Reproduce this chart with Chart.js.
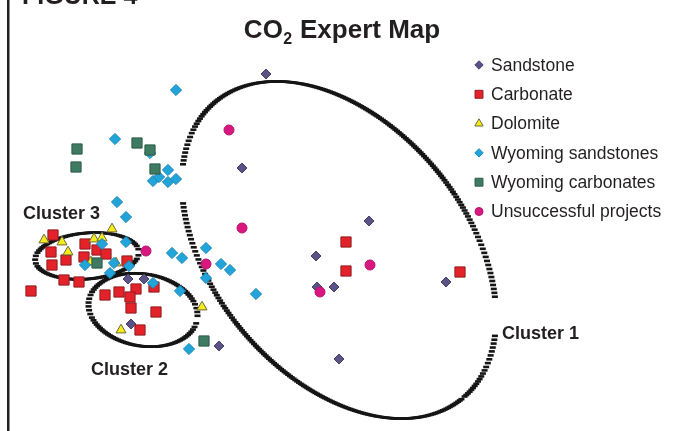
<!DOCTYPE html>
<html>
<head>
<meta charset="utf-8">
<title>CO2 Expert Map</title>
<script src="https://cdn.jsdelivr.net/npm/chart.js@4/dist/chart.umd.min.js"></script>
<style>
  html, body { margin: 0; padding: 0; background: #ffffff; }
  #wrap { position: relative; width: 673px; height: 431px; }
  canvas { display: block; }
</style>
</head>
<body>
<div id="wrap"><canvas id="map" width="673" height="431"></canvas></div>
<script>
// Expert-map coordinates: x grows to the right, y grows downward (map units).
const seriesNames = ['Sandstone', 'Carbonate', 'Dolomite', 'Wyoming sandstones', 'Wyoming carbonates', 'Unsuccessful projects'];

const sandstone = [[266,74],[242,168],[369,221],[316,256],[317,287],[334,287],[446,282],[339,359],[219,346],[128,279],[144,279],[131,324]];
const carbonate = [[53,235],[51,252],[66,260],[52,265],[85,244],[97,250],[84,257],[106,254],[127,261],[64,280],[79,282],[31,291],
                   [105,295],[119,292],[136,289],[130,297],[154,287],[131,308],[156,312],[140,330],
                   [346,242],[346,271],[460,272]];
const dolomite = [[44,240],[62,242],[68,252],[94,239],[102,238],[112,229],[91,262],[116,263],[202,307],[121,330]];
const wyomingSandstones = [[176,90],[115,139],[150,153],[168,170],[153,181],[159,177],[168,182],[176,179],[117,202],[126,217],
                           [102,244],[126,242],[85,265],[114,263],[129,266],[110,273],[153,283],[180,291],[189,349],
                           [172,253],[182,258],[206,248],[206,278],[221,264],[230,270],[256,294]];
const wyomingCarbonates = [[77,149],[76,167],[137,143],[150,150],[155,169],[97,263],[204,341]];
const unsuccessful = [[229,130],[242,228],[206,264],[320,292],[370,265],[146,251]];

// Cluster outlines: centre, semi-axes and tilt (degrees) in map units; gaps in degrees of the ellipse parameter.
const clusterNames = ['Cluster 1', 'Cluster 2', 'Cluster 3'];
const clusterOutlines = [
  { cx: 339, cy: 250, a: 193, b: 126, rot: 50, gaps: [[136, 149], [316, 329]] },
  { cx: 143, cy: 310, a: 55,  b: 36,  rot: 10, gaps: [] },
  { cx: 87,  cy: 256, a: 52,  b: 23,  rot: -5, gaps: [] }
];
// Label anchors (left edge, baseline) in map units.
const clusterLabelPos = [[502, 339], [91, 375], [23, 219]];

const FONT = '"Liberation Sans", Arial, Helvetica, sans-serif';
const INK = '#231f20';

const styles = [
  { pointStyle: 'rectRot',  radius: 5.0, bg: '#5b5385', border: '#47406d', legendRadius: 4.2 },
  { pointStyle: 'rect',     radius: 7.2, bg: '#e4222a', border: '#8e1b1e', legendRadius: 5.6 },
  { pointStyle: 'triangle', radius: 5.8, bg: '#f6ec1c', border: '#6b6a3c', legendRadius: 4.8 },
  { pointStyle: 'rectRot',  radius: 5.6, bg: '#21a4da', border: '#1a84b3', legendRadius: 4.2 },
  { pointStyle: 'rect',     radius: 7.2, bg: '#3e7b62', border: '#2c5a47', legendRadius: 5.6 },
  { pointStyle: 'circle',   radius: 5.0, bg: '#d8177f', border: '#b5126b', legendRadius: 4.0 }
];

const seriesData = [sandstone, carbonate, dolomite, wyomingSandstones, wyomingCarbonates, unsuccessful];

const datasets = seriesData.map((pts, i) => ({
  label: seriesNames[i],
  data: pts.map(p => ({ x: p[0], y: p[1] })),
  pointStyle: styles[i].pointStyle,
  pointRadius: styles[i].radius,
  pointBackgroundColor: styles[i].bg,
  pointBorderColor: styles[i].border,
  pointBorderWidth: 1,
  showLine: false,
  order: seriesNames.length - 1 - i   // later series sit on top
}));

function inGap(deg, gaps) {
  return gaps.some(g => deg >= g[0] && deg <= g[1]);
}

// Cluster boundaries drawn as short horizontal strokes along the ellipse:
// a new stroke starts after enough sideways or vertical travel, so steep
// stretches read as ladders and flatter ones as a solid band.
const outlinePlugin = {
  id: 'clusterOutlines',
  beforeDatasetsDraw(chart) {
    const ctx = chart.ctx, xs = chart.scales.x, ys = chart.scales.y;
    ctx.save();
    ctx.fillStyle = '#151515';
    clusterOutlines.forEach(e => {
      const th = e.rot * Math.PI / 180, c = Math.cos(th), s = Math.sin(th);
      const pt = t => {
        const u = e.a * Math.cos(t), v = e.b * Math.sin(t);
        return [xs.getPixelForValue(e.cx + u * c - v * s), ys.getPixelForValue(e.cy + u * s + v * c)];
      };
      const step = 0.0015;
      let last = pt(0);
      for (let t = 0; t <= Math.PI * 2; t += step) {
        const p = pt(t);
        const dx = Math.abs(p[0] - last[0]), dy = Math.abs(p[1] - last[1]);
        if (dx >= 1.6 || dy >= 3.8) {
          last = p;
          const deg = t * 180 / Math.PI;
          if (!inGap(deg, e.gaps)) ctx.fillRect(p[0] - 3, p[1] - 1.3, 6, 2.6);
        }
      }
    });
    ctx.restore();
  }
};

function drawMarker(ctx, st, r, x, y) {
  const opts = { pointStyle: st.pointStyle, radius: r, rotation: 0, borderWidth: 1 };
  ctx.fillStyle = st.bg;
  ctx.strokeStyle = st.border;
  ctx.lineWidth = 1;
  Chart.helpers.drawPoint(ctx, opts, x, y);
}

// Title, frame line, cluster labels and the series key.
const textPlugin = {
  id: 'mapText',
  afterDraw(chart) {
    const ctx = chart.ctx, xs = chart.scales.x, ys = chart.scales.y;
    ctx.save();

    // frame line on the left edge
    ctx.fillStyle = INK;
    ctx.fillRect(7, 0, 2.5, 431);

    // figure caption (top edge)
    ctx.font = 'bold 25px ' + FONT;
    ctx.textBaseline = 'alphabetic';
    ctx.textAlign = 'left';
    ctx.fillText('FIGURE 4', 22, 4);

    // title with subscript
    const big = 'bold 26px ' + FONT, small = 'bold 16px ' + FONT;
    ctx.font = big; const w1 = ctx.measureText('CO').width; const w3 = ctx.measureText(' Expert Map').width;
    ctx.font = small; const w2 = ctx.measureText('2').width;
    const x0 = 341.5 - (w1 + w2 + w3) / 2, base = 38;
    ctx.font = big; ctx.fillText('CO', x0, base);
    ctx.font = small; ctx.fillText('2', x0 + w1 + 0.5, base + 6);
    ctx.font = big; ctx.fillText(' Expert Map', x0 + w1 + w2 + 1, base);

    // cluster labels
    ctx.font = 'bold 18px ' + FONT;
    clusterNames.forEach((name, i) => {
      const p = clusterLabelPos[i];
      ctx.fillText(name, xs.getPixelForValue(p[0]), ys.getPixelForValue(p[1]));
    });

    // series key
    ctx.font = '17.5px ' + FONT;
    ctx.textBaseline = 'middle';
    seriesNames.forEach((name, i) => {
      const y = 65 + i * 29.3;
      drawMarker(ctx, styles[i], styles[i].legendRadius, 479, y);
      ctx.fillStyle = INK;
      ctx.fillText(name, 491, y + 1);
    });
    ctx.restore();
  }
};

new Chart(document.getElementById('map'), {
  type: 'scatter',
  data: { datasets },
  options: {
    responsive: false,
    devicePixelRatio: 1,
    animation: false,
    layout: { padding: 0, autoPadding: false },
    scales: {
      x: { type: 'linear', min: 0, max: 673, display: false },
      y: { type: 'linear', min: 0, max: 431, reverse: true, display: false }
    },
    plugins: {
      legend: { display: false },
      title: { display: false },
      tooltip: { enabled: false }
    }
  },
  plugins: [outlinePlugin, textPlugin]
});
</script>
</body>
</html>
